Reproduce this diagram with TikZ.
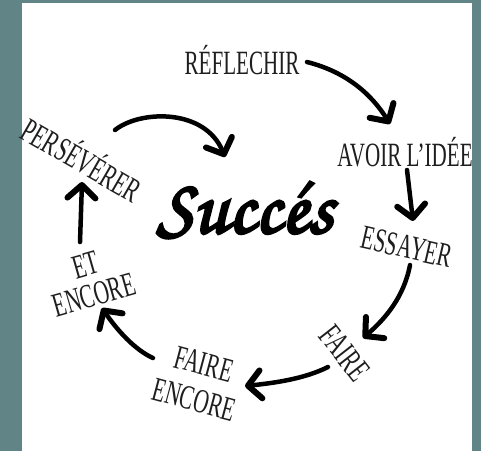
\documentclass[tikz,border=0pt]{standalone}
\usepackage[T1]{fontenc}
\usepackage{fontspec}
\setmainfont{Liberation Serif}
\usetikzlibrary{arrows.meta,calc}
\definecolor{bgteal}{RGB}{97,132,135}
\definecolor{ink}{RGB}{30,30,30}
\newcommand\cond[1]{\scalebox{0.62}[1]{#1}}
\newcommand\scriptbold[1]{\special{pdf:literal direct 2 Tr 0.35 w}#1\special{pdf:literal direct 0 Tr}}
\tikzset{
  lbl/.style={inner sep=0pt, text=ink, align=center, font=\fontsize{34}{36}\selectfont},
  arr/.style={draw=black, line width=4.5pt, line cap=round,
    -{Straight Barb[length=13pt,width=28pt,line width=6pt,round]}}
}
\begin{document}
\begin{tikzpicture}[x=1pt,y=-1pt]
\fill[bgteal] (0,0) rectangle (481,451);
\fill[white] (22,3) rectangle (472,451);
\useasboundingbox (0,0) rectangle (481,451);

\node[lbl] (ref) at (242,60) {\cond{RÉFLECHIR}};
\node[lbl] (idee) at (405,152) {\cond{AVOIR L'IDÉE}};
\node[lbl,rotate=-13] (ess) at (407,247) {\cond{ESSAYER}};
\node[lbl,rotate=-52] (faire) at (345,353) {\cond{FAIRE}};
\node[lbl,rotate=-15,font=\fontsize{34}{37}\selectfont] (fenc) at (199,382) {\cond{FAIRE}\\\cond{ENCORE}};
\node[lbl,rotate=16,font=\fontsize{34}{31}\selectfont] (etenc) at (90,280) {\cond{ET}\\\cond{ENCORE}};
\node[lbl,rotate=-30] (pers) at (83,158) {\cond{PERSÉVÉRER}};
\node[inner sep=0pt] (succ) at (245,210) {\resizebox{176pt}{!}{\fontencoding{T1}\fontfamily{pzc}\fontseries{mb}\fontshape{it}\selectfont\scriptbold{Succ\'es}}};

\draw[arr] ($(ref)+(65,2)$) .. controls ($(ref)+(105,12)$) and ($(ref)+(130,35)$) .. ($(idee)+(-15,-28)$);
\draw[arr] ($(idee)+(2,18)$) -- ($(ess)+(6,-26)$);
\draw[arr] ($(ess)+(3,18)$) .. controls ($(ess)+(-3,50)$) and ($(ess)+(-22,72)$) .. ($(faire)+(18,-15)$);
\draw[arr] ($(faire)+(-17,14)$) .. controls ($(faire)+(-41,26)$) and ($(faire)+(-71,30)$) .. ($(fenc)+(46,4)$);
\draw[arr] ($(fenc)+(-46,-24)$) .. controls ($(fenc)+(-64,-32)$) and ($(fenc)+(-82,-52)$) .. ($(etenc)+(12,28)$);
\draw[arr] ($(etenc)+(-10,-38)$) -- ($(pers)+(-1,24)$);
\draw[arr] ($(pers)+(32,-28)$) .. controls ($(pers)+(57,-48)$) and ($(pers)+(122,-50)$) .. ($(succ)+(-20,-53)$);
\end{tikzpicture}
\end{document}
